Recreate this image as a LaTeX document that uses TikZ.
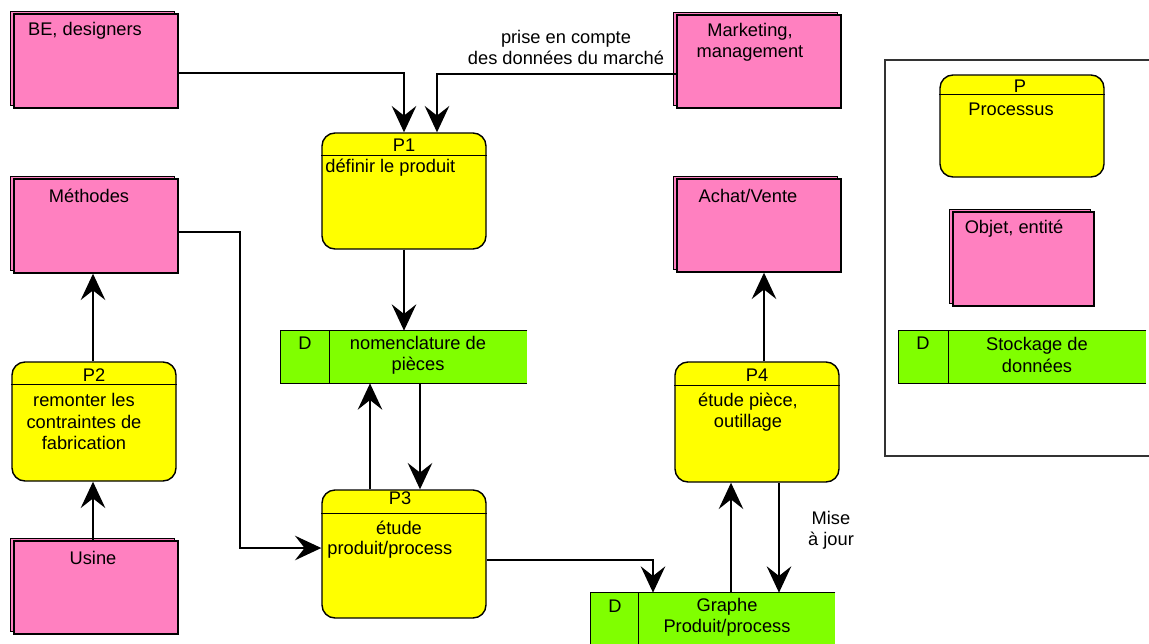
\documentclass[tikz,border=0pt]{standalone}
\usepackage{fontspec}
\setmainfont{Liberation Sans}
\usetikzlibrary{arrows.meta,shadows}
\definecolor{pinkE}{HTML}{FF80C0}
\definecolor{yelP}{HTML}{FFFF00}
\definecolor{grnD}{HTML}{80FF00}
\tikzset{
  txt/.style={font=\fontsize{10.4}{12}\selectfont, inner sep=0pt, align=center},
  entbox/.style={draw=black, line width=0.8pt, fill=pinkE, inner sep=0pt,
    copy shadow={shadow xshift=-0.07cm, shadow yshift=0.05cm}},
  procbox/.style={draw=black, line width=0.8pt, fill=yelP, rounded corners=0.26cm, inner sep=0pt},
  storebox/.style={fill=grnD, inner sep=0pt},
  sline/.style={draw=black, line width=0.8pt},
  arr/.style={draw=black, line width=0.8pt, -{Stealth[length=15pt,width=14pt,inset=5.5pt]}},
}
\begin{document}
\begin{tikzpicture}[x=0.02cm,y=-0.02cm]
\clip (0,0) rectangle (1149,643);
\fill[white] (0,0) rectangle (1149,643);

% ---------- entities ----------
\node[entbox, minimum width={164*0.02cm}, minimum height={94*0.02cm}] (be) at (96,61) {};
\node[entbox, minimum width={164*0.02cm}, minimum height={93*0.02cm}] (mk) at (759,61.5) {};
\node[entbox, minimum width={164*0.02cm}, minimum height={94*0.02cm}] (met) at (96,226) {};
\node[entbox, minimum width={164*0.02cm}, minimum height={93*0.02cm}] (us) at (96,587.5) {};
\node[entbox, minimum width={164*0.02cm}, minimum height={93*0.02cm}] (av) at (759,225.5) {};

\node[txt] (tbe) at (85,31) {BE, designers};
\node[txt] (tmk) at (750,42) {Marketing,\\management};
\node[txt] (tmet) at (89,196) {Méthodes};
\node[txt] (tus) at (93,558) {Usine};
\node[txt] (tav) at (748,196) {Achat/Vente};

% ---------- processes ----------
\node[procbox, minimum width={164*0.02cm}, minimum height={116*0.02cm}] (p1) at (404,191) {};
\node[procbox, minimum width={164*0.02cm}, minimum height={119*0.02cm}] (p2) at (94,421.5) {};
\node[procbox, minimum width={164*0.02cm}, minimum height={128*0.02cm}] (p3) at (404,554) {};
\node[procbox, minimum width={164*0.02cm}, minimum height={120*0.02cm}] (p4) at (757,422) {};

\draw[sline] ([yshift={-23*0.02cm}]p1.north west) -- ([yshift={-23*0.02cm}]p1.north east);
\draw[sline] ([yshift={-23*0.02cm}]p2.north west) -- ([yshift={-23*0.02cm}]p2.north east);
\draw[sline] ([yshift={-24*0.02cm}]p3.north west) -- ([yshift={-24*0.02cm}]p3.north east);
\draw[sline] ([yshift={-24*0.02cm}]p4.north west) -- ([yshift={-24*0.02cm}]p4.north east);

\node[txt] (tp1h) at (404,145) {P1};
\node[txt, anchor=west] (tp1) at (325,168) {définir le produit};
\node[txt] (tp2h) at (94,375) {P2};
\node[txt] (tp2) at (84,421.5) {remonter les\\contraintes de\\fabrication};
\node[txt] (tp3h) at (400,498) {P3};
\node[txt] (tp3a) at (399,528) {étude};
\node[txt, anchor=west] (tp3b) at (327,550) {produit/process};
\node[txt] (tp4h) at (757,375) {P4};
\node[txt] (tp4) at (748,412) {étude pièce,\\outillage};

% ---------- data stores ----------
\node[storebox, minimum width={246*0.02cm}, minimum height={52*0.02cm}] (nom) at (404,357) {};
\draw[sline] (nom.north east) -- (nom.north west) -- (nom.south west) -- (nom.south east);
\draw[sline] ([xshift={49*0.02cm}]nom.north west) -- ([xshift={49*0.02cm}]nom.south west);
\node[txt] (tnomd) at (305,343) {D};
\node[txt] (tnom) at (418,355) {nomenclature de\\pièces};

\node[storebox, minimum width={244*0.02cm}, minimum height={70*0.02cm}] (gr) at (713,628) {};
\draw[sline] (gr.north east) -- (gr.north west) -- (gr.south west);
\draw[sline] ([xshift={48*0.02cm}]gr.north west) -- ([xshift={48*0.02cm}]gr.south west);
\node[txt] (tgrd) at (615,606) {D};
\node[txt] (tgr) at (727,617.5) {Graphe\\Produit/process};

% ---------- connectors ----------
\coordinate (c1) at (404,73);
\coordinate (c2) at (437,74);
\draw[arr] (be.east |- c1) -- (c1) -- (c1 |- p1.north);
\draw[arr] (mk.west |- c2) -- (c2) -- (c2 |- p1.north);
\node[txt] (tprise) at (566,47.5) {prise en compte\\des données du marché};

\draw[arr] (p1.south) -- (p1.south |- nom.north);
\coordinate (c3) at (420,383);
\coordinate (c4) at (370,383);
\draw[arr] (c3 |- nom.south) -- (c3 |- p3.north);
\draw[arr] (c4 |- p3.north) -- (c4 |- nom.south);

\coordinate (c5) at (240,232);
\coordinate (c6) at (240,548);
\draw[arr] (met.east |- c5) -- (c5) -- (c6) -- (c6 -| p3.west);

\coordinate (c7) at (93,0);
\draw[arr] (c7 |- us.north) -- (c7 |- p2.south);
\draw[arr] (c7 |- p2.north) -- (c7 |- met.south);

\coordinate (c8) at (653,560);
\draw[arr] (p3.east |- c8) -- (c8) -- (c8 |- gr.north);

\coordinate (c9) at (764,0);
\coordinate (c10) at (731,0);
\coordinate (c11) at (779,0);
\draw[arr] (c9 |- p4.north) -- (c9 |- av.south);
\draw[arr] (c10 |- gr.north) -- (c10 |- p4.south);
\draw[arr] (c11 |- p4.south) -- (c11 |- gr.north);
\node[txt] (tmaj) at (831,530.5) {Mise\\à jour};

% ---------- legend ----------
\draw[sline, draw=black!80] (885,60) rectangle (1160,456);
\node[procbox, minimum width={164*0.02cm}, minimum height={102*0.02cm}] (lp) at (1022,126) {};
\draw[sline] ([yshift={-20*0.02cm}]lp.north west) -- ([yshift={-20*0.02cm}]lp.north east);
\node[txt] (tlph) at (1020,86) {P};
\node[txt] (tlp) at (1011,109) {Processus};

\node[entbox, minimum width={141*0.02cm}, minimum height={94*0.02cm}] (le) at (1023.5,259) {};
\node[txt] (tle) at (1014,229) {Objet, entité};

\node[storebox, minimum width={247*0.02cm}, minimum height={52*0.02cm}] (ls) at (1022.5,357) {};
\draw[sline] (ls.north east) -- (ls.north west) -- (ls.south west) -- (ls.south east);
\draw[sline] ([xshift={50*0.02cm}]ls.north west) -- ([xshift={50*0.02cm}]ls.south west);
\node[txt] (tlsd) at (923,343) {D};
\node[txt] (tls) at (1037,355) {Stockage de\\données};
\end{tikzpicture}
\end{document}
